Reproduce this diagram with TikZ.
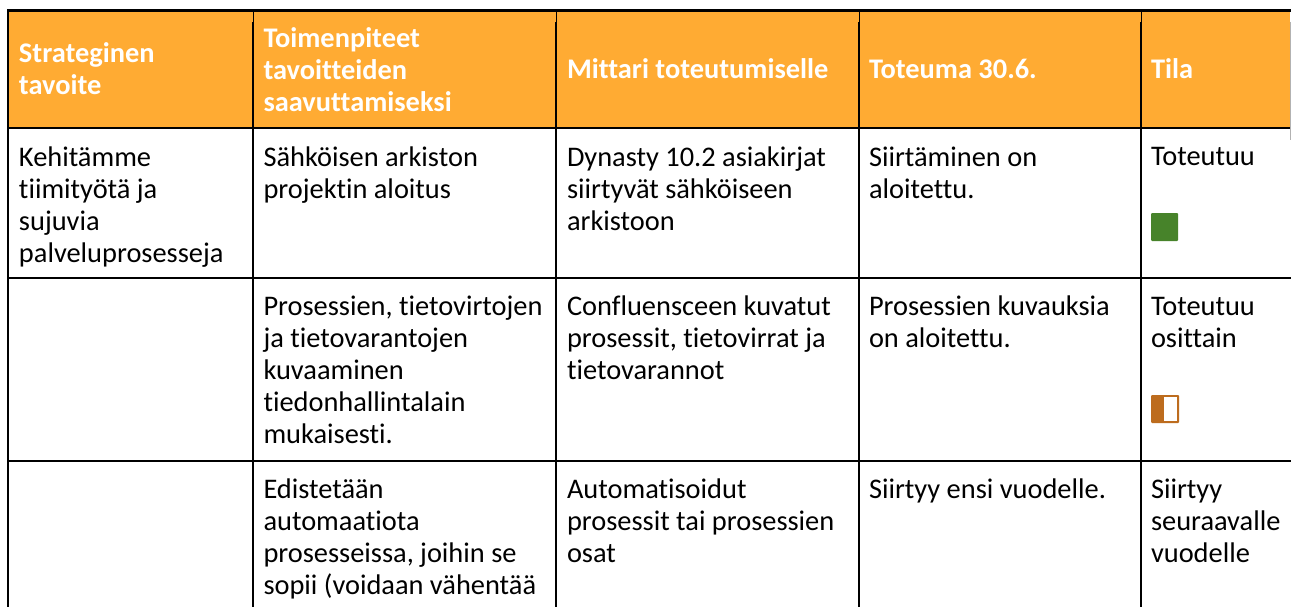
\documentclass[tikz,border=0pt]{standalone}
\usepackage{fontspec}
\setmainfont[Ligatures=NoCommon]{Carlito}
\definecolor{hdr}{HTML}{FFAB33}
\definecolor{okgreen}{HTML}{47832A}
\definecolor{partbrown}{HTML}{BD6C1E}
\newcommand{\firstl}{\rule{0pt}{24pt}}
\tikzset{
  x=1pt,y=-1pt,
  gridline/.style={black,line width=2.6pt},
  colline/.style={black,line width=2pt},
  thinline/.style={black,line width=1pt},
  cell/.style={anchor=north west,inner sep=0pt,outer sep=0pt,align=left,text=black,font=\fontsize{28.4}{32}\selectfont},
  headcell/.style={cell,text=white,font=\fontsize{28.4}{32}\selectfont\bfseries},
}
\begin{document}
\begin{tikzpicture}
\useasboundingbox (0,0) rectangle (1291,607);
\fill[white] (0,0) rectangle (1291,607);
\fill[hdr] (8,11) rectangle (1290,128);
% grid
\draw[colline] (8,11) -- (8,607);
\draw[thinline] (253,11) -- (253,22);
\draw[colline] (253,22) -- (253,607);
\draw[thinline] (556,11) -- (556,22);
\draw[colline] (556,22) -- (556,607);
\draw[thinline] (859,11) -- (859,22);
\draw[colline] (859,22) -- (859,607);
\draw[thinline] (1141,11) -- (1141,22);
\draw[colline] (1141,22) -- (1141,607);
\draw[black,line width=3pt] (7,10.5) -- (1291,10.5);
\draw[gridline] (7,128) -- (1291,128);
\draw[gridline] (7,278) -- (1291,278);
\draw[gridline] (7,461) -- (1291,461);
\draw[gray!60,line width=1pt] (1290.5,22) -- (1290.5,140);
% header
\node[headcell] (h1) at (19,39) {\firstl Strateginen\\tavoite};
\node[headcell] (h2) at (263.5,24) {\firstl Toimenpiteet\\tavoitteiden\\saavuttamiseksi};
\node[headcell] (h3) at (567,55) {\firstl Mittari toteutumiselle};
\node[headcell] (h4) at (869,55) {\firstl Toteuma 30.6.};
\node[headcell] (h5) at (1151,55) {\firstl Tila};
% row 1
\node[cell] (a1) at (19,142) {\firstl Kehitämme\\tiimityötä ja\\sujuvia\\palveluprosesseja};
\node[cell] (a2) at (263.5,142) {\firstl Sähköisen arkiston\\projektin aloitus};
\node[cell] (a3) at (567,142) {\firstl Dynasty 10.2 asiakirjat\\siirtyvät sähköiseen\\arkistoon};
\node[cell] (a4) at (869,142) {\firstl Siirtäminen on\\aloitettu.};
\node[cell] (a5) at (1151,142) {\firstl Toteutuu};
\fill[okgreen,rounded corners=1pt] (1151,213) rectangle (1178,241);
% row 2
\node[cell] (b2) at (263.5,291) {\firstl Prosessien, tietovirtojen\\ja tietovarantojen\\kuvaaminen\\tiedonhallintalain\\mukaisesti.};
\node[cell] (b3) at (567,291) {\firstl Confluensceen kuvatut\\prosessit, tietovirrat ja\\tietovarannot};
\node[cell] (b4) at (869,291) {\firstl Prosessien kuvauksia\\on aloitettu.};
\node[cell] (b5) at (1151,291) {\firstl Toteutuu\\osittain};
\fill[partbrown,rounded corners=1pt] (1151,395) rectangle (1179,423);
\fill[white] (1164,397) rectangle (1177,421);
% row 3
\node[cell] (c2) at (263.5,474) {\firstl Edistetään\\automaatiota\\prosesseissa, joihin se\\sopii (voidaan vähentää};
\node[cell] (c3) at (567,474) {\firstl Automatisoidut\\prosessit tai prosessien\\osat};
\node[cell] (c4) at (869,474) {\firstl Siirtyy ensi vuodelle.};
\node[cell] (c5) at (1151,474) {\firstl Siirtyy\\seuraavalle\\vuodelle};
\end{tikzpicture}
\end{document}
